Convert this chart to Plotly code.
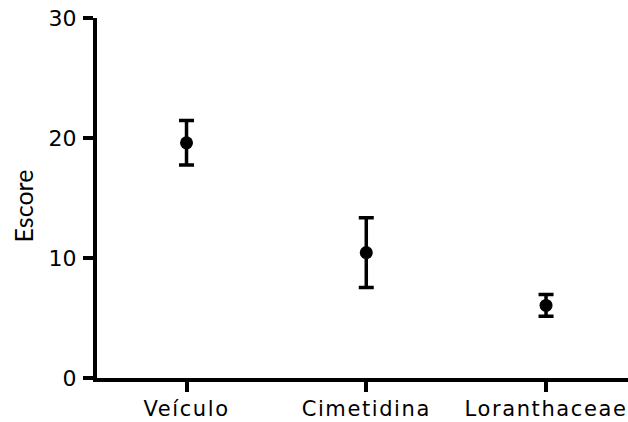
import plotly.graph_objects as go

# Group means and error (half-range) for the score
groups = ["Veículo", "Cimetidina", "Loranthaceae"]
means = [19.6, 10.45, 6.05]
errors = [1.85, 2.9, 0.9]

y_ticks = [0, 10, 20, 30]
y_title = "Escore"

fig = go.Figure()
fig.add_trace(go.Scatter(
    x=list(range(len(groups))),
    y=means,
    mode="markers",
    marker=dict(color="black", size=13, symbol="circle"),
    error_y=dict(type="data", array=errors, visible=True,
                 color="black", thickness=3.5, width=7.5),
    showlegend=False,
    cliponaxis=False,
))

fig.update_layout(
    width=628, height=422,
    margin=dict(l=97, r=0, t=18, b=44),
    paper_bgcolor="white", plot_bgcolor="white",
    xaxis=dict(
        range=[-0.498, 2.456], automargin=False,
        tickmode="array", tickvals=list(range(len(groups))), ticktext=groups,
        showgrid=False, zeroline=False,
        showline=True, linecolor="black", linewidth=4,
        ticks="outside", ticklen=10, tickwidth=3.5, tickcolor="black",
        tickfont=dict(family="DejaVu Sans", size=21, color="black"),
        ticklabelstandoff=-1,
    ),
    yaxis=dict(
        range=[0, 30], automargin=False,
        tickmode="array", tickvals=y_ticks,
        showgrid=False, zeroline=False,
        showline=True, linecolor="black", linewidth=4,
        ticks="outside", ticklen=10, tickwidth=3.5, tickcolor="black",
        tickfont=dict(family="DejaVu Sans", size=22, color="black"),
        ticklabelstandoff=2,
    ),
)

# Vertical axis title, set slightly below the plot's vertical centre
fig.add_annotation(
    text=y_title, textangle=-90,
    xref="paper", yref="y", x=-74 / 531, y=14.3,
    xanchor="center", yanchor="middle", showarrow=False,
    font=dict(family="Lato", size=25, color="black"),
)

# Slightly widen the category label tracking
post = """
var s = document.createElement('style');
s.textContent = '.xtick text{letter-spacing:1.6px;}';
document.head.appendChild(s);
"""

fig.write_html("out.html", post_script=post)
